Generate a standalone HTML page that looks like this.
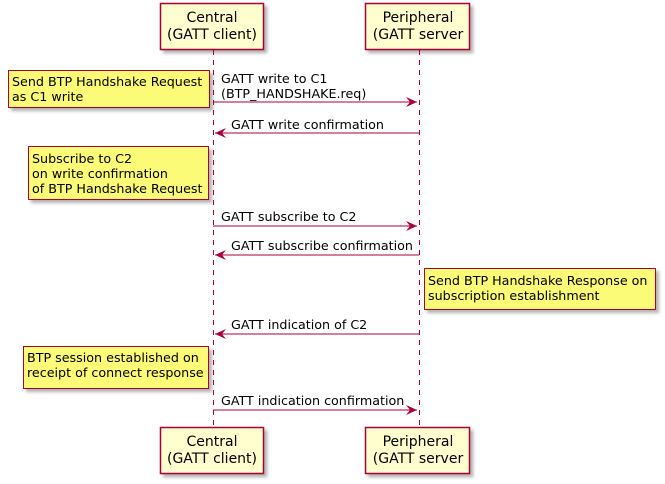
<!DOCTYPE html>
<html><head><style>body{margin:0;background:#fff}svg{display:block}text{font-family:"DejaVu Sans","Liberation Sans",sans-serif;font-size:12.7px;fill:#000}</style></head><body>
<svg width="665" height="484" xmlns="http://www.w3.org/2000/svg">
<defs>
<filter id="sh" x="-10%" y="-10%" width="130%" height="140%"><feDropShadow dx="3" dy="3" stdDeviation="1.5" flood-color="#000" flood-opacity="0.3"/></filter>
<marker id="ar" markerWidth="12" markerHeight="10" refX="11" refY="5" orient="auto" markerUnits="userSpaceOnUse"><path d="M0,0 L11,5 L0,10 L4,5 Z" fill="#A80036"/></marker>
</defs>
<g stroke="#A80036" stroke-dasharray="5,5" stroke-width="1"><line x1="213.5" y1="50" x2="213.5" y2="427"/><line x1="419.5" y1="50" x2="419.5" y2="427"/></g>
<g fill="#FEFECE" stroke="#A80036" stroke-width="1.5" filter="url(#sh)">
<rect x="160.5" y="3.5" width="103" height="46"/><rect x="365.5" y="3.5" width="104" height="46"/>
<rect x="160.5" y="427.5" width="103" height="46"/><rect x="365.5" y="427.5" width="104" height="46"/>
</g>
<g text-anchor="middle">
<text x="212" y="22" style="font-size:14px">Central</text><text x="212" y="39" style="font-size:14px">(GATT client)</text>
<text x="418" y="22" style="font-size:14px">Peripheral</text><text x="418" y="39" style="font-size:14px">(GATT server</text>
<text x="212" y="446" style="font-size:14px">Central</text><text x="212" y="463" style="font-size:14px">(GATT client)</text>
<text x="418" y="446" style="font-size:14px">Peripheral</text><text x="418" y="463" style="font-size:14px">(GATT server</text>
</g>
<g fill="#FBFB77" stroke="#A80036" stroke-width="1" filter="url(#sh)">
<rect x="8.5" y="70.5" width="201" height="37"/>
<rect x="28.5" y="146.5" width="180" height="53"/>
<rect x="424.5" y="268.5" width="231" height="41"/>
<rect x="23.5" y="346.5" width="185" height="42"/>
</g>
<text x="12" y="86">Send BTP Handshake Request</text><text x="12" y="101">as C1 write</text>
<text x="32" y="163">Subscribe to C2</text><text x="32" y="178">on write confirmation</text><text x="32" y="193">of BTP Handshake Request</text>
<text x="428" y="285">Send BTP Handshake Response on</text><text x="428" y="300">subscription establishment</text>
<text x="27" y="362">BTP session established on</text><text x="27" y="377">receipt of connect response</text>
<g stroke="#A80036" stroke-width="1" marker-end="url(#ar)">
<line x1="213" y1="102" x2="417" y2="102"/>
<line x1="419" y1="133" x2="215" y2="133"/>
<line x1="213" y1="226" x2="417" y2="226"/>
<line x1="419" y1="255" x2="215" y2="255"/>
<line x1="419" y1="334" x2="215" y2="334"/>
<line x1="213" y1="410" x2="417" y2="410"/>
</g>
<text x="221" y="83">GATT write to C1</text><text x="221" y="98">(BTP_HANDSHAKE.req)</text>
<text x="231" y="129">GATT write confirmation</text>
<text x="221" y="221">GATT subscribe to C2</text>
<text x="231" y="250">GATT subscribe confirmation</text>
<text x="231" y="329">GATT indication of C2</text>
<text x="221" y="405">GATT indication confirmation</text>
</svg>
</body></html>
